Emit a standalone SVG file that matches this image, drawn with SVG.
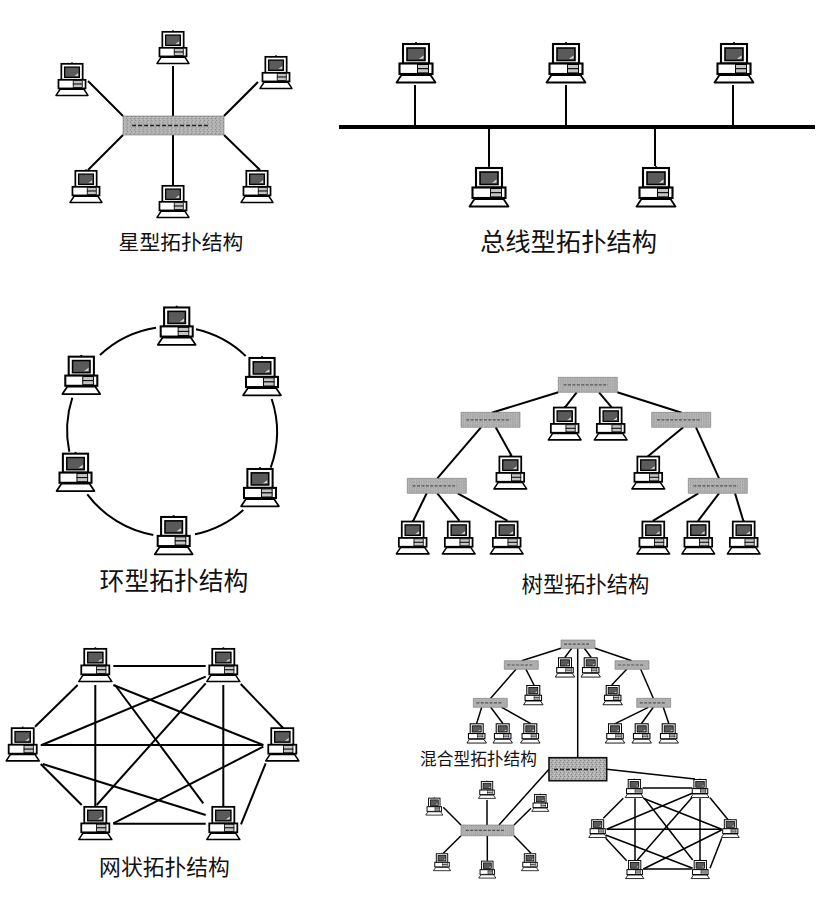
<svg xmlns="http://www.w3.org/2000/svg" width="835" height="900" viewBox="0 0 835 900">
<style>
.bg{fill:#fff}
.c line,.c path{stroke:#000;fill:none;stroke-linecap:butt}
.w2 line,.w2 path{stroke-width:2}
.w15 line{stroke-width:1.5}
text{font-family:"Noto Sans CJK SC","Liberation Sans",sans-serif;fill:#111;text-anchor:middle}
.o{fill:#fff;stroke:#000;stroke-width:2.1}
.t{stroke:#000;stroke-width:1;fill:#c4c4c4}
.s{fill:#5a5a5a;stroke:#000;stroke-width:1.6}
.f{fill:#fff;stroke:#000;stroke-width:1.8;stroke-linejoin:round}
.swb{fill:url(#speck);stroke:#777;stroke-width:.6}
.swd{fill:url(#speck);stroke:#111;stroke-width:1.6}
.swl{stroke:#555;stroke-width:1.2;stroke-dasharray:3 1.4;fill:none}
.swk{stroke:#222;stroke-width:1.5;stroke-dasharray:4 2;fill:none}
</style>
<defs>
<pattern id="speck" width="4" height="4" patternUnits="userSpaceOnUse">
<rect width="4" height="4" fill="#b0b0b0"/>
<rect x="0" y="0" width="1" height="1" fill="#858585"/>
<rect x="2" y="1" width="1" height="1" fill="#d0d0d0"/>
<rect x="1" y="3" width="1" height="1" fill="#cacaca"/>
<rect x="3" y="2" width="1" height="1" fill="#888"/>
</pattern>
<g id="pc">
<rect x="-1" y="-0.8" width="2" height="3" fill="#000"/>
<rect class="o" x="-13" y="1" width="26" height="19.5"/>
<rect class="s" x="-9" y="5" width="18" height="12.5"/>
<path d="M3 16 L7.5 12.5 L7.5 15.5 Z" fill="#ddd"/>
<rect class="o" x="-16.5" y="20.5" width="33" height="10.5"/>
<rect class="t" x="1.5" y="21.5" width="11" height="4.2"/>
<rect class="t" x="1.5" y="25.7" width="11" height="4.2"/>
<path class="f" d="M-14.5 32 L14.5 32 L19.5 39.5 L-19.5 39.5 Z"/>
</g>
<g id="sw">
<rect class="swb" width="100" height="20" vector-effect="non-scaling-stroke"/>
<line class="swl" x1="9" y1="10" x2="84" y2="10" vector-effect="non-scaling-stroke"/>
</g>
<g id="swk">
<rect class="swb" width="100" height="20" vector-effect="non-scaling-stroke"/>
<line class="swk" x1="9" y1="10" x2="84" y2="10" vector-effect="non-scaling-stroke"/>
</g>
</defs>
<rect class="bg" width="835" height="900"/>

<g id="connectors" class="c w2">
<g id="star-links">
<line x1="173" y1="66" x2="173" y2="116"/><line x1="88" y1="81" x2="123" y2="116"/><line x1="258" y1="82" x2="224" y2="116"/><line x1="123" y1="135" x2="88" y2="170"/><line x1="173" y1="135" x2="173" y2="185"/><line x1="224" y1="135" x2="260" y2="170"/>
</g>
<g id="bus-links">
<line x1="339" y1="127" x2="815" y2="127" style="stroke-width:4"/>
<line x1="415" y1="85" x2="415" y2="127"/><line x1="566" y1="85" x2="566" y2="127"/><line x1="733" y1="85" x2="733" y2="127"/><line x1="489" y1="127" x2="489" y2="166"/><line x1="655" y1="127" x2="655" y2="166"/>
</g>
<g id="ring-links">
<path d="M196 329.3A105 105 0 0 1 245.7 356"/><path d="M271.7 399A105 105 0 0 1 270.7 467.7"/><path d="M243.3 510A105 105 0 0 1 195 534.3"/><path d="M153.3 535A105 105 0 0 1 87.3 494.3"/><path d="M69.3 451.7A105 105 0 0 1 72.3 397.7"/><path d="M100 355A105 105 0 0 1 156 327.7"/>
</g>
<g id="mesh-links">
<line x1="113.3" y1="666" x2="205.7" y2="666"/><line x1="77.7" y1="685" x2="35" y2="726.7"/><line x1="95.3" y1="685" x2="95.3" y2="806.7"/><line x1="115" y1="685" x2="203.3" y2="803.3"/><line x1="113.3" y1="685" x2="263.3" y2="745"/><line x1="205.7" y1="676.7" x2="41.7" y2="745"/><line x1="205.7" y1="683.3" x2="96.7" y2="805"/><line x1="223.3" y1="685" x2="223.3" y2="806.7"/><line x1="240.7" y1="684" x2="283.3" y2="728.3"/><line x1="40.7" y1="745" x2="263.3" y2="745"/><line x1="40.7" y1="764" x2="81.7" y2="805"/><line x1="42.7" y1="764" x2="205.7" y2="815"/><line x1="263.3" y1="746.7" x2="113.3" y2="823.3"/><line x1="265.7" y1="763.3" x2="241" y2="824.3"/><line x1="113.3" y1="823.7" x2="205.7" y2="823.7"/>
</g>
<g id="tree-links">
<line x1="558.3" y1="392.3" x2="491.7" y2="412.7"/><line x1="576.7" y1="392.3" x2="565" y2="407.3"/><line x1="599" y1="392.3" x2="611.7" y2="407.3"/><line x1="617.3" y1="392.3" x2="681.7" y2="412.7"/><line x1="481" y1="427.3" x2="437.3" y2="478.3"/><line x1="495.7" y1="427.3" x2="511.7" y2="456"/><line x1="683.3" y1="427.3" x2="648.3" y2="456"/><line x1="696" y1="427.3" x2="719" y2="478.3"/><line x1="426.7" y1="493.3" x2="413.3" y2="520.7"/><line x1="437.3" y1="493.3" x2="459.3" y2="520.7"/><line x1="457.7" y1="493.3" x2="507.3" y2="520.7"/><line x1="698.3" y1="493.3" x2="653.3" y2="520.7"/><line x1="719" y1="493.3" x2="698.3" y2="520.7"/><line x1="735" y1="493.3" x2="743.3" y2="520.7"/>
</g>
<g id="hybrid-links" class="w15">
<line x1="561" y1="648.3" x2="521.7" y2="660.7"/><line x1="571.7" y1="648.3" x2="565" y2="657.3"/><line x1="584.3" y1="648.3" x2="591" y2="657.3"/><line x1="595" y1="648.3" x2="631.7" y2="660.7"/><line x1="577.7" y1="648.3" x2="577.7" y2="758.3"/><line x1="516" y1="669.3" x2="490.7" y2="698.3"/><line x1="526" y1="669.3" x2="534" y2="685"/><line x1="626.7" y1="669.3" x2="611.7" y2="685"/><line x1="640.7" y1="669.3" x2="653.3" y2="698.3"/><line x1="481.7" y1="707.3" x2="476.7" y2="723.3"/><line x1="490.7" y1="707.3" x2="502.7" y2="723.3"/><line x1="501.7" y1="707.3" x2="530.3" y2="723.3"/><line x1="648.3" y1="707.3" x2="615.7" y2="723.3"/><line x1="653.3" y1="707.3" x2="641.7" y2="723.3"/><line x1="663.3" y1="707.3" x2="668.7" y2="723.3"/>
<line x1="606.7" y1="769.3" x2="695" y2="779"/><line x1="549" y1="769.3" x2="499" y2="825"/>
<line x1="487" y1="800" x2="487" y2="825"/><line x1="443.3" y1="807.3" x2="461" y2="825"/><line x1="531" y1="808.3" x2="514" y2="825"/><line x1="461" y1="835.7" x2="443.3" y2="853.3"/><line x1="487.3" y1="835.7" x2="487.3" y2="860.7"/><line x1="514" y1="835.7" x2="531" y2="853.3"/>
<line x1="642.7" y1="788" x2="692.3" y2="788"/><line x1="623.3" y1="798.3" x2="603.3" y2="818.3"/><line x1="635" y1="798.3" x2="635" y2="860"/><line x1="644.3" y1="798.3" x2="692.7" y2="860"/><line x1="643.3" y1="798.3" x2="721.7" y2="829.3"/><line x1="692.3" y1="793.3" x2="606.7" y2="829.3"/><line x1="692.7" y1="796.7" x2="637.3" y2="860"/><line x1="700" y1="798.3" x2="700" y2="860"/><line x1="710" y1="797.7" x2="728.3" y2="820"/><line x1="606.7" y1="829.3" x2="721.7" y2="829.3"/><line x1="605.7" y1="838.3" x2="626.7" y2="860.7"/><line x1="605.7" y1="835" x2="692.7" y2="868.3"/><line x1="721.7" y1="830" x2="643.3" y2="869"/><line x1="721.7" y1="838.3" x2="710" y2="868.3"/><line x1="643.3" y1="869" x2="691.7" y2="869"/>
</g>
</g>

<!-- star -->
<g id="star-hub"><use href="#swk" transform="translate(123 116) scale(1.01 .95)"/></g>
<g id="star-pc1"><use href="#pc" transform="translate(173 31) scale(.82)"/></g>
<g id="star-pc2"><use href="#pc" transform="translate(72 63) scale(.82)"/></g>
<g id="star-pc3"><use href="#pc" transform="translate(276 56) scale(.82)"/></g>
<g id="star-pc4"><use href="#pc" transform="translate(86 170) scale(.82)"/></g>
<g id="star-pc5"><use href="#pc" transform="translate(173 185) scale(.82)"/></g>
<g id="star-pc6"><use href="#pc" transform="translate(257 170) scale(.82)"/></g>
<text id="star-label" x="181" y="250" font-size="20.8">星型拓扑结构</text>

<!-- bus -->
<g id="bus-pc1"><use href="#pc" transform="translate(416 43)"/></g>
<g id="bus-pc2"><use href="#pc" transform="translate(566 43)"/></g>
<g id="bus-pc3"><use href="#pc" transform="translate(734 43)"/></g>
<g id="bus-pc4"><use href="#pc" transform="translate(489 167)"/></g>
<g id="bus-pc5"><use href="#pc" transform="translate(656 167)"/></g>
<text id="bus-label" x="568.5" y="251" font-size="25.3">总线型拓扑结构</text>

<!-- ring -->
<g id="ring-pc1"><use href="#pc" transform="translate(176.7 306.5) scale(.97)"/></g>
<g id="ring-pc2"><use href="#pc" transform="translate(262 357) scale(.97)"/></g>
<g id="ring-pc3"><use href="#pc" transform="translate(260 468) scale(.97)"/></g>
<g id="ring-pc4"><use href="#pc" transform="translate(173.7 516) scale(.97)"/></g>
<g id="ring-pc5"><use href="#pc" transform="translate(75.5 452.7) scale(.97)"/></g>
<g id="ring-pc6"><use href="#pc" transform="translate(81.3 355.7) scale(.97)"/></g>
<text id="ring-label" x="174" y="590" font-size="24.8">环型拓扑结构</text>

<!-- tree -->
<g id="tree-root"><use href="#sw" transform="translate(558.3 377.3) scale(.59 .75)"/></g>
<g id="tree-sw1"><use href="#sw" transform="translate(461 412.3) scale(.59 .75)"/></g>
<g id="tree-sw2"><use href="#sw" transform="translate(651.7 412.3) scale(.59 .75)"/></g>
<g id="tree-sw3"><use href="#sw" transform="translate(407.3 478.3) scale(.59 .75)"/></g>
<g id="tree-sw4"><use href="#sw" transform="translate(688.3 478.3) scale(.59 .75)"/></g>
<g id="tree-pc1"><use href="#pc" transform="translate(564.7 406.7) scale(.84)"/></g>
<g id="tree-pc2"><use href="#pc" transform="translate(610.7 406.7) scale(.84)"/></g>
<g id="tree-pc3"><use href="#pc" transform="translate(510.3 455.7) scale(.84)"/></g>
<g id="tree-pc4"><use href="#pc" transform="translate(648.3 455.7) scale(.84)"/></g>
<g id="tree-pc5"><use href="#pc" transform="translate(412.7 520.7) scale(.84)"/></g>
<g id="tree-pc6"><use href="#pc" transform="translate(458.7 520.7) scale(.84)"/></g>
<g id="tree-pc7"><use href="#pc" transform="translate(506.7 520.7) scale(.84)"/></g>
<g id="tree-pc8"><use href="#pc" transform="translate(653.3 520.7) scale(.84)"/></g>
<g id="tree-pc9"><use href="#pc" transform="translate(698.3 520.7) scale(.84)"/></g>
<g id="tree-pc10"><use href="#pc" transform="translate(743.7 520.7) scale(.84)"/></g>
<text id="tree-label" x="585.5" y="592" font-size="21.3">树型拓扑结构</text>

<!-- mesh -->
<g id="mesh-pc1"><use href="#pc" transform="translate(95.3 648) scale(.85)"/></g>
<g id="mesh-pc2"><use href="#pc" transform="translate(223.3 648) scale(.85)"/></g>
<g id="mesh-pc3"><use href="#pc" transform="translate(282.3 727.3) scale(.85)"/></g>
<g id="mesh-pc4"><use href="#pc" transform="translate(223.3 806) scale(.85)"/></g>
<g id="mesh-pc5"><use href="#pc" transform="translate(95.3 806) scale(.85)"/></g>
<g id="mesh-pc6"><use href="#pc" transform="translate(22.7 727.3) scale(.85)"/></g>
<text id="mesh-label" x="164.5" y="875" font-size="21.8">网状拓扑结构</text>

<!-- hybrid -->
<g id="hy-root"><use href="#sw" transform="translate(561 640) scale(.34 .42)"/></g>
<g id="hy-sw1"><use href="#sw" transform="translate(504.3 660.7) scale(.34 .43)"/></g>
<g id="hy-sw2"><use href="#sw" transform="translate(615 660.7) scale(.34 .43)"/></g>
<g id="hy-sw3"><use href="#sw" transform="translate(473.3 698.3) scale(.34 .45)"/></g>
<g id="hy-sw4"><use href="#sw" transform="translate(636.7 698.3) scale(.34 .45)"/></g>
<g id="hy-pc1"><use href="#pc" transform="translate(565 657.3) scale(.5)"/></g>
<g id="hy-pc2"><use href="#pc" transform="translate(590.7 657.3) scale(.5)"/></g>
<g id="hy-pc3"><use href="#pc" transform="translate(533.3 685) scale(.5)"/></g>
<g id="hy-pc4"><use href="#pc" transform="translate(612.7 685) scale(.5)"/></g>
<g id="hy-pc5"><use href="#pc" transform="translate(476.7 723.3) scale(.5)"/></g>
<g id="hy-pc6"><use href="#pc" transform="translate(502.7 723.3) scale(.5)"/></g>
<g id="hy-pc7"><use href="#pc" transform="translate(530.3 723.3) scale(.5)"/></g>
<g id="hy-pc8"><use href="#pc" transform="translate(615 723.3) scale(.5)"/></g>
<g id="hy-pc9"><use href="#pc" transform="translate(641.7 723.3) scale(.5)"/></g>
<g id="hy-pc10"><use href="#pc" transform="translate(668.7 723.3) scale(.5)"/></g>
<text id="hybrid-label" x="478.5" y="765" font-size="16.7">混合型拓扑结构</text>
<g id="hy-main"><rect class="swd" x="549" y="757.7" width="57.7" height="23"/><line class="swk" x1="554" y1="769.5" x2="597" y2="769.5"/></g>
<g id="hy-star-hub"><use href="#sw" transform="translate(461 825) scale(.53 .54)"/></g>
<g id="hy-star-pc1"><use href="#pc" transform="translate(487 781) scale(.44)"/></g>
<g id="hy-star-pc2"><use href="#pc" transform="translate(434.3 797.7) scale(.44)"/></g>
<g id="hy-star-pc3"><use href="#pc" transform="translate(540.3 794) scale(.44)"/></g>
<g id="hy-star-pc4"><use href="#pc" transform="translate(442 853.3) scale(.44)"/></g>
<g id="hy-star-pc5"><use href="#pc" transform="translate(487.3 860.7) scale(.44)"/></g>
<g id="hy-star-pc6"><use href="#pc" transform="translate(530 853.3) scale(.44)"/></g>
<g id="hy-mesh-pc1"><use href="#pc" transform="translate(634.3 779) scale(.47)"/></g>
<g id="hy-mesh-pc2"><use href="#pc" transform="translate(700 779) scale(.47)"/></g>
<g id="hy-mesh-pc3"><use href="#pc" transform="translate(730.3 819.3) scale(.46)"/></g>
<g id="hy-mesh-pc4"><use href="#pc" transform="translate(700.3 860) scale(.47)"/></g>
<g id="hy-mesh-pc5"><use href="#pc" transform="translate(634.7 860) scale(.47)"/></g>
<g id="hy-mesh-pc6"><use href="#pc" transform="translate(597.7 819.3) scale(.46)"/></g>
</svg>
